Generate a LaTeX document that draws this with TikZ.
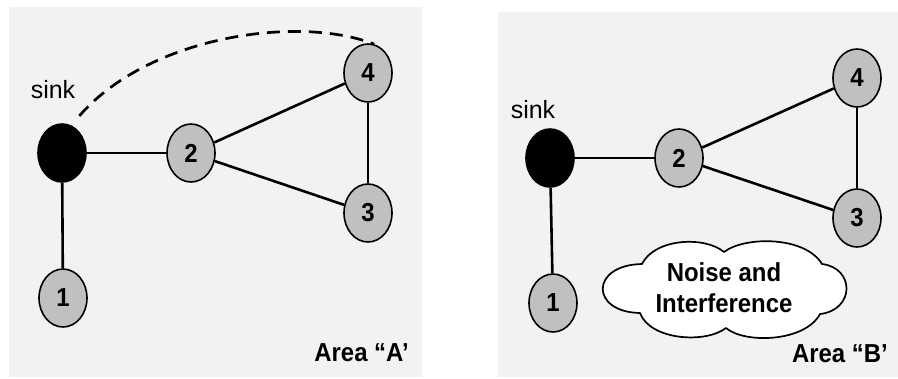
\documentclass[tikz,border=0pt]{standalone}
\usepackage{fontspec}
\setmainfont{Liberation Sans}
\newfontfamily\labelfont[FakeStretch=0.92]{Liberation Sans}
\usetikzlibrary{shapes.geometric}
\definecolor{panelbg}{RGB}{242,242,242}
\definecolor{nodegray}{RGB}{192,192,192}
\begin{document}
\begin{tikzpicture}[x=1pt,y=-1pt,
  panel/.style={fill=panelbg,draw=none},
  sensor/.style={ellipse,draw=black,line width=1.6pt,fill=nodegray,
    minimum width=48pt,minimum height=58pt,inner sep=0pt,
    font=\labelfont\bfseries\fontsize{26}{26}\selectfont},
  sinknode/.style={sensor,fill=black},
  link/.style={line width=2.6pt},
  weaklink/.style={line width=2.7pt,dash pattern=on 13pt off 8pt},
  tag/.style={font=\fontsize{25}{25}\selectfont,inner sep=0pt},
  arealabel/.style={font=\labelfont\bfseries\fontsize{26}{26}\selectfont,inner sep=0pt},
  cloudline/.style={draw=black,line width=1.7pt,fill=white,line join=round},
  noisetext/.style={align=center,inner sep=0pt,
    font=\labelfont\bfseries\fontsize{26}{31}\selectfont}]
\useasboundingbox (0,0) rectangle (898,378);
\fill[white] (0,0) rectangle (898,378);

% ---- Area A ----
\fill[panel] (9,7) rectangle (422,377);
\node[sinknode] (sinkA) at (62,153) {};
\node[sensor] (n2A) at (191,153) {2};
\node[sensor] (n4A) at (368,73) {4};
\node[sensor] (n3A) at (368,213) {3};
\node[sensor] (n1A) at (63,298) {1};
\node[tag] (sinkTagA) at (53,90) {sink};
\node[arealabel,anchor=east] (areaA) at (409,353) {Area “A’};
\draw[link] (sinkA) -- (n2A);
\draw[link] (sinkA) -- (n1A);
\draw[link] (n2A) -- (n4A);
\draw[link] (n2A) -- (n3A);
\draw[link] (n4A) -- (n3A);
\draw[weaklink] (sinkA.62) ++(4,-12) .. controls (150,35) and (300,15) .. (n4A.78);

% ---- Area B ----
\fill[panel] (498,12) rectangle (898,377);
\node[sinknode] (sinkB) at (550,158) {};
\node[sensor] (n2B) at (679,158) {2};
\node[sensor] (n4B) at (857,78) {4};
\node[sensor] (n3B) at (857,218) {3};
\node[sensor] (n1B) at (553,303) {1};
\node[tag] (sinkTagB) at (533,110) {sink};
\draw[link] (sinkB) -- (n2B);
\draw[link] (sinkB) -- (n1B);
\draw[link] (n2B) -- (n4B);
\draw[link] (n2B) -- (n3B);
\draw[link] (n4B) -- (n3B);

% noise cloud: six lobes round the label
\path[cloudline] (642,264)
  .. controls (655,238) and (705,236) .. (724,252)
  .. controls (745,236) and (805,236) .. (822,264)
  .. controls (855,268) and (855,310) .. (820,314)
  .. controls (805,342) and (745,344) .. (726,328)
  .. controls (705,344) and (650,340) .. (640,313)
  .. controls (590,312) and (590,265) .. cycle;
\node[noisetext] (noiseB) at (724,288) {Noise and\\Interference};
\node[arealabel,anchor=east] (areaB) at (888,354) {Area “B’};
\end{tikzpicture}
\end{document}
